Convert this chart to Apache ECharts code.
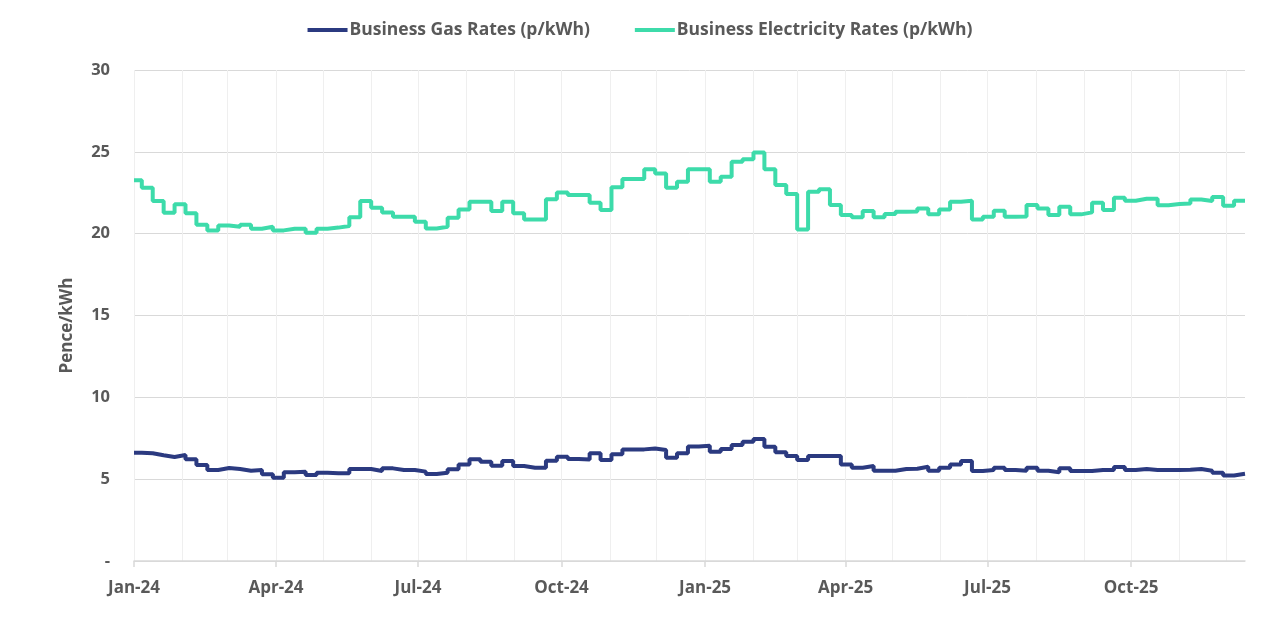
<!DOCTYPE html>
<html>
<head>
<meta charset="utf-8">
<script src="https://cdn.jsdelivr.net/npm/echarts@6/dist/echarts.min.js"></script>
<style>
html,body{margin:0;padding:0;background:#fff;}
#chart{width:1280px;height:636px;}
</style>
</head>
<body>
<div id="chart"></div>
<script>
// ---- data ----
const axisStart = '2024-01-01';
const axisEnd = '2025-12-13';
const firstWeekChange = '2024-01-06';
const monthNames = ['Jan','Feb','Mar','Apr','May','Jun','Jul','Aug','Sep','Oct','Nov','Dec'];
const yTicks = [0, 5, 10, 15, 20, 25, 30];

// value on 2024-01-01, then one value per week starting 2024-01-06 (last = chart end)
const gasRates = [6.62,
  6.58, 6.46, 6.36, 6.48, 6.21, 5.86, 5.56, 5.68, 5.62, 5.52,
  5.56, 5.30, 5.08, 5.42, 5.46, 5.25, 5.39, 5.36, 5.36, 5.62,
  5.62, 5.50, 5.66, 5.56, 5.56, 5.46, 5.31, 5.39, 5.60, 5.90,
  6.21, 6.07, 5.82, 6.11, 5.80, 5.70, 5.70, 6.13, 6.37, 6.23,
  6.20, 6.58, 6.17, 6.52, 6.82, 6.82, 6.88, 6.78, 6.31, 6.58,
  7.00, 7.04, 6.68, 6.84, 7.09, 7.29, 7.45, 6.98, 6.64, 6.41,
  6.17, 6.41, 6.41, 6.41, 5.90, 5.70, 5.80, 5.52, 5.52, 5.62,
  5.64, 5.76, 5.52, 5.70, 5.90, 6.11, 5.50, 5.56, 5.70, 5.56,
  5.52, 5.70, 5.52, 5.42, 5.66, 5.50, 5.50, 5.56, 5.56, 5.74,
  5.56, 5.62, 5.56, 5.56, 5.56, 5.58, 5.62, 5.52, 5.39, 5.23,
  5.33, 5.33];

const electricityRates = [23.27,
  22.80, 22.00, 21.28, 21.80, 21.24, 20.55, 20.20, 20.50, 20.42, 20.55,
  20.30, 20.42, 20.20, 20.30, 20.30, 20.06, 20.30, 20.37, 20.47, 21.00,
  22.00, 21.58, 21.30, 21.03, 21.03, 20.73, 20.32, 20.42, 20.97, 21.48,
  21.95, 21.95, 21.38, 21.95, 21.24, 20.87, 20.87, 22.11, 22.52, 22.36,
  22.36, 21.89, 21.44, 22.83, 23.34, 23.34, 23.93, 23.68, 22.80, 23.17,
  23.93, 23.93, 23.17, 23.48, 24.39, 24.54, 24.96, 23.93, 22.97, 22.42,
  20.26, 22.56, 22.72, 21.75, 21.14, 21.00, 21.38, 21.00, 21.20, 21.34,
  21.36, 21.54, 21.18, 21.48, 21.95, 22.01, 20.87, 21.03, 21.40, 21.03,
  21.05, 21.75, 21.54, 21.14, 21.64, 21.18, 21.30, 21.89, 21.44, 22.20,
  22.01, 22.13, 22.13, 21.73, 21.81, 21.85, 22.09, 21.99, 22.24, 21.71,
  22.01, 22.01];

// ---- helpers ----
function parseD(s){const p=s.split('-').map(Number);return Date.UTC(p[0],p[1]-1,p[2]);}
function fmt(t){const d=new Date(t);const m=d.getUTCMonth()+1, dd=d.getUTCDate();
  return d.getUTCFullYear()+'-'+(m<10?'0':'')+m+'-'+(dd<10?'0':'')+dd;}
const DAY = 86400000;
const categories = [];
for (let t = parseD(axisStart); t <= parseD(axisEnd); t += DAY) categories.push(fmt(t));

const pointDates = [axisStart];
for (let i = 1; i < gasRates.length; i++) pointDates.push(fmt(parseD(firstWeekChange) + (i-1)*7*DAY));

const gasData = gasRates.map((v,i)=>[pointDates[i], v]);
const elecData = electricityRates.map((v,i)=>[pointDates[i], v]);

const isQuarterStart = (idx, val) => { const p = val.split('-'); return p[2]==='01' && ['01','04','07','10'].includes(p[1]); };
const isMonthStart = (idx, val) => val.split('-')[2]==='01';

const textColor = '#595959';
const fontFam = '"Open Sans", "Noto Sans", sans-serif';

const chart = echarts.init(document.getElementById('chart'), null, {renderer:'canvas'});
chart.setOption({
  animation: false,
  backgroundColor: '#fff',
  legend: {
    top: 16,
    left: 'center',
    itemGap: 45,
    itemWidth: 40,
    itemHeight: 4,
    icon: 'rect',
    textStyle: {color: textColor, fontWeight: 'bold', fontSize: 17.5, fontFamily: fontFam, padding: [0,0,0,-3]},
    data: ['Business Gas Rates (p/kWh)', 'Business Electricity Rates (p/kWh)']
  },
  grid: {left: 134, right: 35, top: 70, bottom: 75, containLabel: false},
  xAxis: {
    type: 'category',
    data: categories,
    boundaryGap: false,
    axisLine: {show: true, lineStyle: {color: '#d9d9d9', width: 1.5}},
    axisTick: {show: true, interval: isQuarterStart, length: 6, lineStyle: {color: '#d9d9d9', width: 1.5}},
    axisLabel: {
      interval: isQuarterStart,
      color: textColor, fontWeight: 'bold', fontSize: 17, fontFamily: fontFam, margin: 19,
      formatter: (val) => { const p = val.split('-'); return monthNames[+p[1]-1] + '-' + p[0].slice(2); }
    },
    splitLine: {show: true, interval: isMonthStart, lineStyle: {color: '#efefef', width: 1}}
  },
  yAxis: {
    type: 'value',
    min: yTicks[0], max: yTicks[yTicks.length-1], interval: yTicks[1]-yTicks[0],
    name: 'Pence/kWh',
    nameLocation: 'middle',
    nameGap: 58,
    nameTextStyle: {color: textColor, fontWeight: 'bold', fontSize: 17, fontFamily: fontFam, padding: [0, 20, 0, 0]},
    axisLine: {show: false},
    axisTick: {show: false},
    axisLabel: {color: textColor, fontWeight: 'bold', fontSize: 16.5, fontFamily: fontFam, margin: 24,
      formatter: (v) => v === 0 ? '-' : String(v)},
    splitLine: {show: true, lineStyle: {color: '#d9d9d9', width: 1}}
  },
  series: [
    {name: 'Business Gas Rates (p/kWh)', type: 'line', step: 'end', data: gasData,
     showSymbol: false, symbol: 'none', lineStyle: {color: '#2b3a80', width: 4}, itemStyle: {color: '#2b3a80'}},
    {name: 'Business Electricity Rates (p/kWh)', type: 'line', step: 'end', data: elecData,
     showSymbol: false, symbol: 'none', lineStyle: {color: '#3ddbaa', width: 4}, itemStyle: {color: '#3ddbaa'}}
  ]
});
</script>
</body>
</html>
